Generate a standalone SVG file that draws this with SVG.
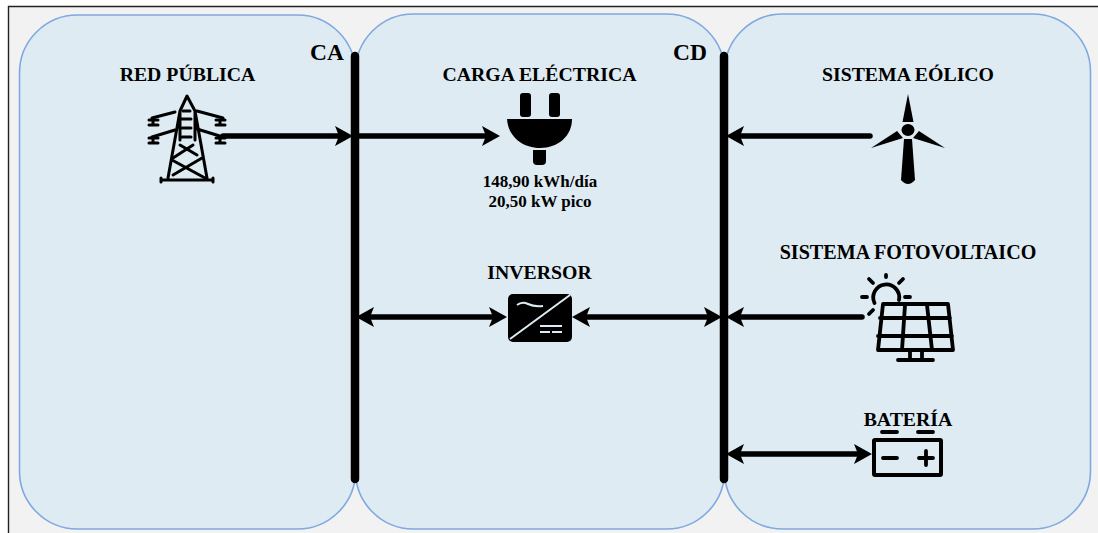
<svg xmlns="http://www.w3.org/2000/svg" width="1098" height="533" viewBox="0 0 1098 533">
<style>
text{font-family:"Liberation Serif","Times New Roman",serif;font-weight:bold;fill:#000;text-anchor:middle}
.t{font-size:19.800px}.b{font-size:23.500px}.s{font-size:17px}
.panel{fill:#deebf2;stroke:#7fa9e0;stroke-width:1.6}
.bus{stroke:#000;stroke-width:8.500;stroke-linecap:round;fill:none}
.c{stroke:#000;stroke-width:5.500;fill:none;stroke-linecap:round}
.l{stroke:#000;stroke-width:3;fill:none;stroke-linecap:round;stroke-linejoin:round}
.k{stroke:#000;stroke-width:3.800;fill:none;stroke-linecap:round;stroke-linejoin:round}
.w{stroke:#deebf2;fill:none}
</style>
<defs>
<marker id="ah" viewBox="0 0 18 20" refX="8" refY="10" markerWidth="18" markerHeight="20" markerUnits="userSpaceOnUse" orient="auto-start-reverse"><path d="M0 0L18 10L0 20L4 10Z" fill="#000"/></marker>
</defs>
<rect x="0" y="0" width="1098" height="533" fill="#fff"/>
<rect x="8.500" y="6.500" width="1090" height="527" fill="#f2f2f2"/>
<path d="M8.500 533V6.500H1098" fill="none" stroke="#222" stroke-width="1.400"/>
<g id="panel-ca"><rect class="panel" x="19.500" y="15" width="336" height="514" rx="58" ry="58"/></g>
<g id="panel-cc"><rect class="panel" x="355.500" y="14" width="369" height="515" rx="58" ry="58"/></g>
<g id="panel-cd"><rect class="panel" x="724.500" y="14" width="366" height="515" rx="58" ry="58"/></g>
<g id="connectors">
<line class="bus" x1="355" y1="56" x2="355" y2="479"/>
<line class="bus" x1="724" y1="56" x2="724" y2="479"/>
<line class="c" x1="223" y1="136" x2="343" y2="136" marker-end="url(#ah)"/>
<line class="c" x1="357" y1="136" x2="490" y2="136" marker-end="url(#ah)"/>
<line class="c" x1="366" y1="317" x2="497" y2="317" marker-start="url(#ah)" marker-end="url(#ah)"/>
<line class="c" x1="582" y1="317" x2="712" y2="317" marker-start="url(#ah)" marker-end="url(#ah)"/>
<line class="c" x1="870" y1="136" x2="736" y2="136" marker-end="url(#ah)"/>
<line class="c" x1="862" y1="317" x2="736" y2="317" marker-end="url(#ah)"/>
<line class="c" x1="736" y1="454" x2="862" y2="454" marker-start="url(#ah)" marker-end="url(#ah)"/>
</g>
<g id="bus-ca-label"><text class="b" x="327" y="60">CA</text></g>
<g id="bus-cd-label"><text class="b" x="690" y="60">CD</text></g>
<g id="red-publica">
<text class="t" x="187.500" y="81">RED PÚBLICA</text>
<path class="l" d="M161 180H213M161 178V182M213 178V182M168 178L180 111L187 96L195 111L207 178M180 111V140M195 111V140"/>
<path class="l" d="M183 111H190M180 119H191M182 128H191M182 137H191"/>
<path class="l" d="M175 112L152 118M197 111L223 118M175 130L152 137M197 129L223 137"/>
<path class="l" d="M149 120H158M153 120V125M149 125H158M216 120H225M220 120V125M216 125H225M149 138H158M153 138V143M149 143H158M216 138H225M220 138V143M216 143H225"/>
<path class="l" d="M180 145L197 155M172 160L205 178M193 145L173 158M202 158L173 175"/>
</g>
<g id="carga-electrica">
<text class="t" x="539.500" y="81">CARGA ELÉCTRICA</text>
<rect x="520" y="93" width="11" height="24" rx="3" fill="#000"/>
<rect x="549" y="93" width="11" height="24" rx="3" fill="#000"/>
<path d="M507 119H572C572 136 558 148 540 148C522 148 508 136 507 119Z" fill="#000"/>
<path d="M533 150H546V161Q546 165 542 165H537Q533 165 533 161Z" fill="#000"/>
<text class="s" x="540" y="187">148,90 kWh/día</text>
<text class="s" x="540" y="207">20,50 kW pico</text>
</g>
<g id="inversor">
<text class="t" x="539.500" y="279">INVERSOR</text>
<rect x="508" y="294" width="64" height="48" rx="5" fill="#000"/>
<path class="w" d="M510 339L570 295" stroke-width="2"/>
<path class="w" d="M517 305Q522 301 528 304T543 306" stroke-width="2"/>
<path class="w" d="M540 326H562M540 332H550M552 332H562" stroke-width="2"/>
</g>
<g id="sistema-eolico">
<text class="t" x="908" y="81">SISTEMA EÓLICO</text>
<ellipse cx="908" cy="130" rx="6.500" ry="6" fill="#000"/>
<path d="M908 94L913.500 122H902.500Z" fill="#000"/>
<path d="M871 148L897 131L903 138Z" fill="#000"/>
<path d="M945 148L919 131L913 138Z" fill="#000"/>
<path d="M904 139H912L915 180Q908 188 901 180Z" fill="#000"/>
</g>
<g id="sistema-fotovoltaico">
<text class="t" x="908" y="259" font-size="20" style="font-size:20.100px">SISTEMA FOTOVOLTAICO</text>
<path class="k" d="M874.500 303A13 13 0 1 1 899 300M886 275V277M869 279L873 283M903 279L899 283M862 297H867M905 297H910M869 314L873 310" stroke-width="3.200"/>
<path class="k" d="M883 304H948L953 350H878ZM880 318H950M878 336H952M905 305L902 350M927 305L932 350M910 351V360M922 351V360M898 360H933"/>
</g>
<g id="bateria">
<text class="t" x="908" y="426">BATERÍA</text>
<path class="k" d="M882 432H897M918 432H933" stroke-width="3.200"/>
<rect x="874" y="440" width="67" height="35" rx="1" fill="none" stroke="#000" stroke-width="4"/>
<path class="k" d="M883 458H897M919 458H933M926 451V465"/>
</g>
</svg>
